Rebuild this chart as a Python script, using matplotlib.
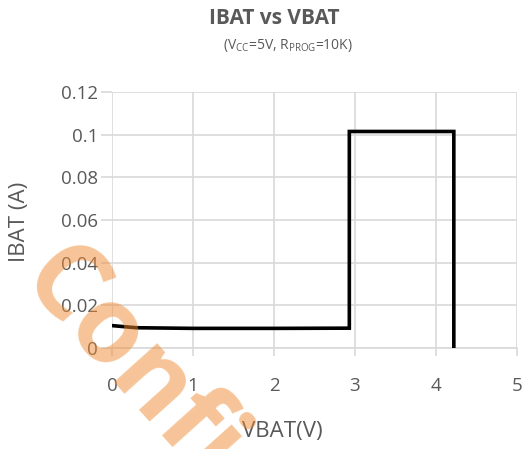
import matplotlib
matplotlib.use("Agg")
import matplotlib.pyplot as plt

# IBAT vs VBAT curve
vbat = [0, 0.3, 1.0, 2.0, 2.93, 2.93, 4.22, 4.22]
ibat = [0.0105, 0.0095, 0.0092, 0.0092, 0.0093, 0.1015, 0.1015, 0.0]

x_ticks = [0, 1, 2, 3, 4, 5]
y_ticks = [0, 0.02, 0.04, 0.06, 0.08, 0.1, 0.12]
y_labels = ["0", "0.02", "0.04", "0.06", "0.08", "0.1", "0.12"]

TEXT = "#595959"
GRID = "#d9d9d9"

plt.rcParams["font.family"] = ["Open Sans", "DejaVu Sans"]
plt.rcParams["mathtext.fontset"] = "custom"
plt.rcParams["mathtext.rm"] = "Open Sans"

fig = plt.figure(figsize=(5.31, 4.49), dpi=100)
ax = fig.add_axes([112 / 531, 101 / 449, 405 / 531, 256 / 449])

ax.plot(vbat, ibat, color="black", linewidth=2.6, solid_joinstyle="miter", zorder=3)

ax.set_xlim(0, 5)
ax.set_ylim(0, 0.12)
ax.set_xticks(x_ticks)
ax.set_yticks(y_ticks)
ax.set_yticklabels(y_labels)
ax.grid(True, color=GRID, linewidth=1.2)
ax.set_axisbelow(True)
for name, spine in ax.spines.items():
    spine.set_visible(name == "bottom")
ax.spines["bottom"].set_color(GRID)
ax.spines["bottom"].set_linewidth(1.2)
ax.tick_params(axis="x", colors=TEXT, labelsize=13.5, length=6, width=1.2,
               color=GRID, pad=15)
ax.tick_params(axis="y", colors=TEXT, labelsize=13.5, length=8, width=1.2,
               color=GRID, pad=2)

fig.text(282 / 531, 1 - 431 / 449, "VBAT(V)", ha="center", va="center",
         fontsize=16, color=TEXT)
fig.text(19 / 531, 1 - 222 / 449, "IBAT (A)", ha="center", va="center",
         rotation=90, fontsize=16, color=TEXT)

fig.text(274 / 531, 1 - 18 / 449, "IBAT vs VBAT", ha="center", va="center",
         fontsize=15, fontweight="bold", color=TEXT)
fig.text(288 / 531, 1 - 45 / 449,
         r"(V$_{\mathrm{CC}}$=5V, R$_{\mathrm{PROG}}$=10K)",
         ha="center", va="center", fontsize=10, color=TEXT)

# watermark
fig.text(130 / 531, 1 - 366 / 449, "Confi", ha="center", va="center",
         rotation=-48, rotation_mode="anchor", fontsize=76,
         fontweight="bold", color="#ee8a30", alpha=0.5, zorder=10)

fig.savefig("out.png", dpi=100, facecolor="white")
